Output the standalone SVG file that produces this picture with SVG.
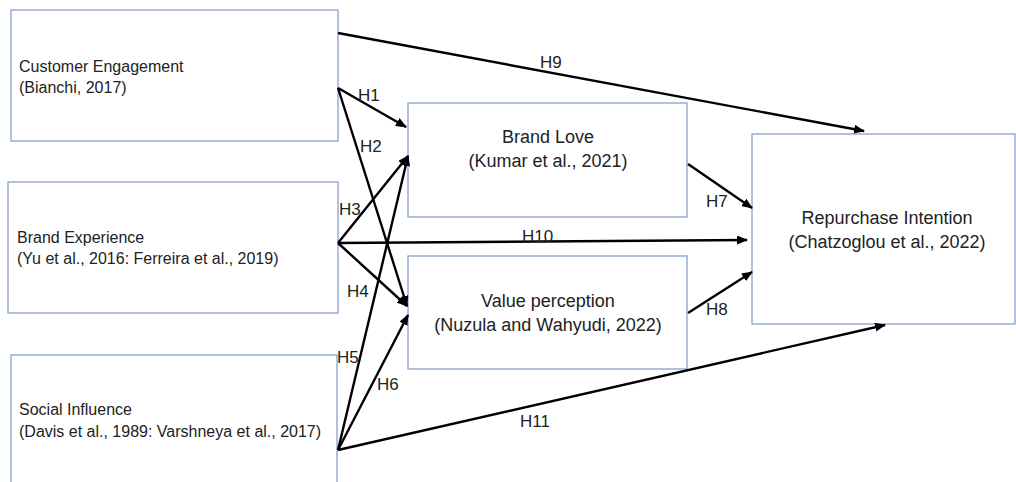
<svg xmlns="http://www.w3.org/2000/svg" width="1016" height="482" viewBox="0 0 1016 482">
<defs>
<marker id="ah" markerUnits="userSpaceOnUse" markerWidth="11" markerHeight="9" refX="10" refY="4.5" orient="auto">
<path d="M0,0 L11,4.5 L0,9 z" fill="#000"/>
</marker>
<style>
.box{fill:#fff;stroke:#7f98cc;stroke-width:1.2}
.t{font-family:"Liberation Sans",Arial,sans-serif;font-size:16px;fill:#222}
.c{text-anchor:middle;font-size:18px}
.l{font-family:"Liberation Sans",Arial,sans-serif;font-size:17px;fill:#222}
.e{stroke:#000;stroke-width:2.4;fill:none;marker-end:url(#ah)}
</style>
</defs>
<rect width="1016" height="482" fill="#fff"/>
<g id="customer-engagement">
<rect class="box" x="11" y="10" width="327" height="131"/>
<text class="t" x="19" y="72">Customer Engagement</text>
<text class="t" x="19" y="93">(Bianchi, 2017)</text>
</g>
<g id="brand-experience">
<rect class="box" x="8" y="182" width="330" height="131"/>
<text class="t" x="17" y="243">Brand Experience</text>
<text class="t" x="17" y="264">(Yu et al., 2016: Ferreira et al., 2019)</text>
</g>
<g id="social-influence">
<rect class="box" x="11" y="355" width="326" height="140"/>
<text class="t" x="19" y="415">Social Influence</text>
<text class="t" x="19" y="437">(Davis et al., 1989: Varshneya et al., 2017)</text>
</g>
<g id="brand-love">
<rect class="box" x="408" y="103" width="279" height="114"/>
<text class="t c" x="548" y="143">Brand Love</text>
<text class="t c" x="548" y="167">(Kumar et al., 2021)</text>
</g>
<g id="value-perception">
<rect class="box" x="408" y="256" width="279" height="113"/>
<text class="t c" x="548" y="307">Value perception</text>
<text class="t c" x="548" y="331">(Nuzula and Wahyudi, 2022)</text>
</g>
<g id="repurchase-intention">
<rect class="box" x="752" y="134" width="263" height="190"/>
<text class="t c" x="887" y="224">Repurchase Intention</text>
<text class="t c" x="887" y="248">(Chatzoglou et al., 2022)</text>
</g>
<g id="connectors">
<line class="e" x1="338" y1="33" x2="864" y2="131"/>
<line class="e" x1="338" y1="88" x2="406" y2="127"/>
<line class="e" x1="338" y1="88" x2="407" y2="306"/>
<line class="e" x1="338" y1="243" x2="408" y2="156"/>
<line class="e" x1="338" y1="243" x2="407" y2="306"/>
<line class="e" x1="338" y1="243" x2="747" y2="240"/>
<line class="e" x1="338" y1="450" x2="408" y2="156"/>
<line class="e" x1="338" y1="450" x2="408" y2="315"/>
<line class="e" x1="338" y1="450" x2="885" y2="325"/>
<line class="e" x1="688" y1="164" x2="752" y2="208"/>
<line class="e" x1="688" y1="313" x2="752" y2="272"/>
<text class="l" x="358" y="101">H1</text>
<text class="l" x="360" y="152">H2</text>
<text class="l" x="339" y="215">H3</text>
<text class="l" x="347" y="297">H4</text>
<text class="l" x="337" y="363">H5</text>
<text class="l" x="377" y="390">H6</text>
<text class="l" x="706" y="207">H7</text>
<text class="l" x="706" y="315">H8</text>
<text class="l" x="540" y="68">H9</text>
<text class="l" x="522" y="242">H10</text>
<text class="l" x="520" y="427">H11</text>
</g>
</svg>
